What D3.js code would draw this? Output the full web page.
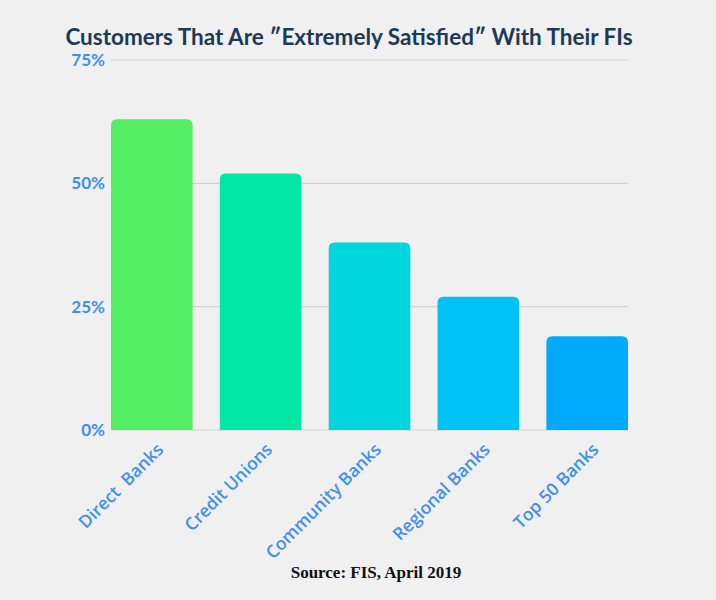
<!DOCTYPE html>
<html>
<head>
<meta charset="utf-8">
<script src="https://cdn.jsdelivr.net/npm/d3@7"></script>
<style>
  html, body { margin: 0; padding: 0; background: #f0f0f0; }
  .chart { width: 716px; height: 600px; }
</style>
</head>
<body>
<div class="chart"></div>
<script>
// data
var categories = ["Direct  Banks", "Credit Unions", "Community Banks", "Regional Banks", "Top 50 Banks"]
var values = [63, 52, 38, 27, 19]
var barColours = ["#55ed64", "#00e8a3", "#00d6dc", "#00c2f6", "#00aafa"]
var yTicks = [0, 25, 50, 75]

var width = 716, height = 600
var margin = ({top: 60, right: 88, bottom: 170, left: 111})
var titleFont = "Lato, 'Open Sans', sans-serif"
var tickFont = "Lato, 'Open Sans', sans-serif"
var labelFont = "'Open Sans', Lato, sans-serif"
var blue = "#3d8ff5"

var svg = d3.select(".chart")
  .append("svg")
    .attr("width", width)
    .attr("height", height)

svg.append("rect")
  .attr("width", width).attr("height", height)
  .attr("fill", "#f0f0f0")

// title
svg.append("text")
  .attr("x", 349).attr("y", 45)
  .attr("text-anchor", "middle")
  .attr("font-family", titleFont)
  .attr("font-weight", "bold")
  .attr("font-size", 22.5)
  .attr("fill", "#1b3a57")
  .text("Customers That Are \u2033Extremely Satisfied\u2033 With Their FIs")

var g = svg.append("g")
  .attr("transform", `translate(${margin.left},${margin.top})`)

var innerW = width - margin.left - margin.right
var innerH = height - margin.top - margin.bottom

const x = d3.scaleBand()
  .domain(categories)
  .range([0, innerW])
  .paddingInner(0.25)
  .paddingOuter(0)

const y = d3.scaleLinear()
  .domain([0, 75])
  .range([innerH, 0])

// gridlines
g.append("g")
  .selectAll("line")
  .data(yTicks)
  .join("line")
    .attr("x1", 0).attr("x2", innerW)
    .attr("y1", d => y(d)).attr("y2", d => y(d))
    .attr("stroke", "#d2d2d2")
    .attr("stroke-width", 1.2)

// y labels
g.append("g")
  .selectAll("text")
  .data(yTicks)
  .join("text")
    .attr("x", -6)
    .attr("y", d => y(d))
    .attr("dy", "0.36em")
    .attr("text-anchor", "end")
    .attr("font-family", tickFont)
    .attr("font-weight", "bold")
    .attr("font-size", 17)
    .attr("fill", blue)
    .text(d => d + "%")

// bars with rounded tops
var r = 6
function barPath(d, i) {
  var x0 = x(categories[i]), x1 = x0 + x.bandwidth()
  var y0 = y(d), yb = y(0)
  return `M${x0},${yb} L${x0},${y0 + r} Q${x0},${y0} ${x0 + r},${y0} ` +
    `L${x1 - r},${y0} Q${x1},${y0} ${x1},${y0 + r} L${x1},${yb} Z`
}

g.append("g")
  .selectAll("path")
  .data(values)
  .join("path")
    .attr("d", barPath)
    .attr("fill", (d, i) => barColours[i])

// x labels, rotated
g.append("g")
  .selectAll("text")
  .data(categories)
  .join("text")
    .attr("transform", d => `translate(${x(d) + x.bandwidth() / 2 + 4},${innerH + 12})rotate(-45)`)
    .attr("dy", "0.7em")
    .attr("text-anchor", "end")
    .attr("font-family", labelFont)
    .attr("font-weight", 600)
    .attr("font-size", 17.5)
    .attr("fill", blue)
    .style("white-space", "pre")
    .text(d => d)

// source
svg.append("text")
  .attr("x", 376).attr("y", 578)
  .attr("text-anchor", "middle")
  .attr("font-family", "'Liberation Serif', 'DejaVu Serif', serif")
  .attr("font-weight", "bold")
  .attr("font-size", 17)
  .attr("fill", "#111")
  .text("Source: FIS, April 2019")
</script>
</body>
</html>
